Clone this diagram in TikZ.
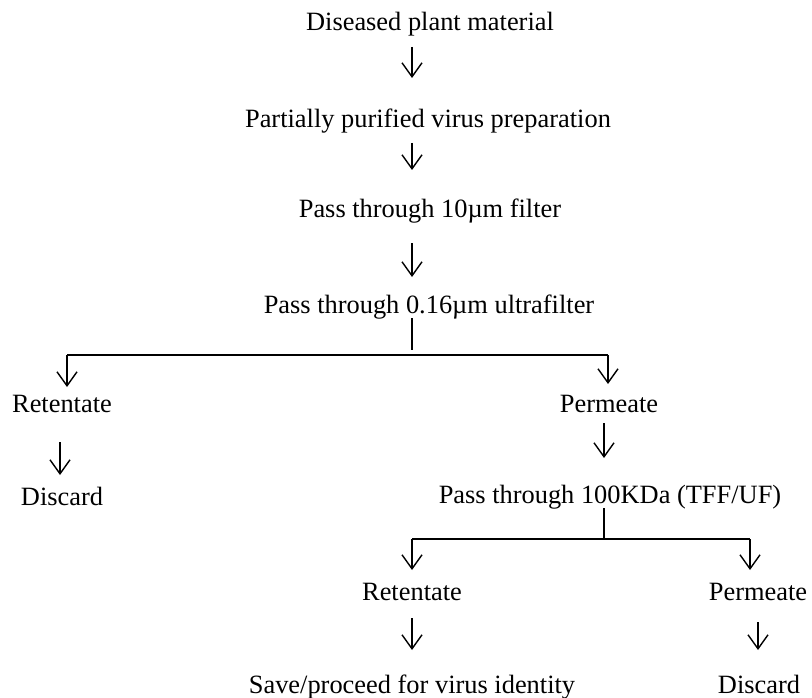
\documentclass[tikz,border=0pt]{standalone}
\usepackage{fontspec}
\setmainfont{Liberation Serif}
\usetikzlibrary{arrows.meta}
\begin{document}
\begin{tikzpicture}[x=1pt,y=-1pt,
  lbl/.style={anchor=base,inner sep=0pt,font=\fontsize{26.4}{30}\selectfont},
  arr/.style={line width=1.4pt,-{Straight Barb[length=14pt,width=20pt,line width=1.4pt]}},
  bar/.style={line width=2pt}]
\useasboundingbox (0,0) rectangle (812,698);
% texts
\node[lbl] (t1) at (430,31) {Diseased plant material};
\node[lbl] (t2) at (428,128) {Partially purified virus preparation};
\node[lbl] (t3) at (430,218) {Pass through 10µm filter};
\node[lbl] (t4) at (429,313) {Pass through 0.16µm ultrafilter};
\node[lbl] (retl) at (62,412) {Retentate};
\node[lbl] (permr) at (609,412) {Permeate};
\node[lbl] (discl) at (62,505) {Discard};
\node[lbl] (t5) at (610,503) {Pass through 100KDa (TFF/UF)};
\node[lbl] (ret2) at (412,600) {Retentate};
\node[lbl] (perm2) at (758,600) {Permeate};
\node[lbl] (save) at (412,693) {Save/proceed for virus identity};
\node[lbl] (disc2) at (759,693) {Discard};
% coordinates
\coordinate (a1s) at (412,47);  \coordinate (a1e) at (412,78);
\coordinate (a2s) at (412,143); \coordinate (a2e) at (412,170);
\coordinate (a3s) at (412,243); \coordinate (a3e) at (412,277);
\coordinate (s1s) at (412,318); \coordinate (s1e) at (412,350);
\coordinate (h1l) at (67,355);  \coordinate (h1r) at (608,355);
\coordinate (b1l) at (67,387);  \coordinate (b1r) at (608,384);
\coordinate (a4s) at (60,442);  \coordinate (a4e) at (60,475);
\coordinate (a5s) at (604,423); \coordinate (a5e) at (604,458);
\coordinate (s2s) at (604,508); \coordinate (h2m) at (604,539);
\coordinate (h2l) at (412,539); \coordinate (h2r) at (750,539);
\coordinate (b2l) at (412,570); \coordinate (b2r) at (750,570);
\coordinate (a6s) at (412,618); \coordinate (a6e) at (412,650);
\coordinate (a7s) at (758,622); \coordinate (a7e) at (758,650);
% connectors
\draw[arr] (a1s) -- (a1e);
\draw[arr] (a2s) -- (a2e);
\draw[arr] (a3s) -- (a3e);
\draw[bar] (s1s) -- (s1e);
\draw[bar] (h1l) -- (h1r);
\draw[arr] (h1l) -- (b1l);
\draw[arr] (h1r) -- (b1r);
\draw[arr] (a4s) -- (a4e);
\draw[arr] (a5s) -- (a5e);
\draw[bar] (s2s) -- (h2m);
\draw[bar] (h2l) -- (h2r);
\draw[arr] (h2l) -- (b2l);
\draw[arr] (h2r) -- (b2r);
\draw[arr] (a6s) -- (a6e);
\draw[arr] (a7s) -- (a7e);
\end{tikzpicture}
\end{document}
